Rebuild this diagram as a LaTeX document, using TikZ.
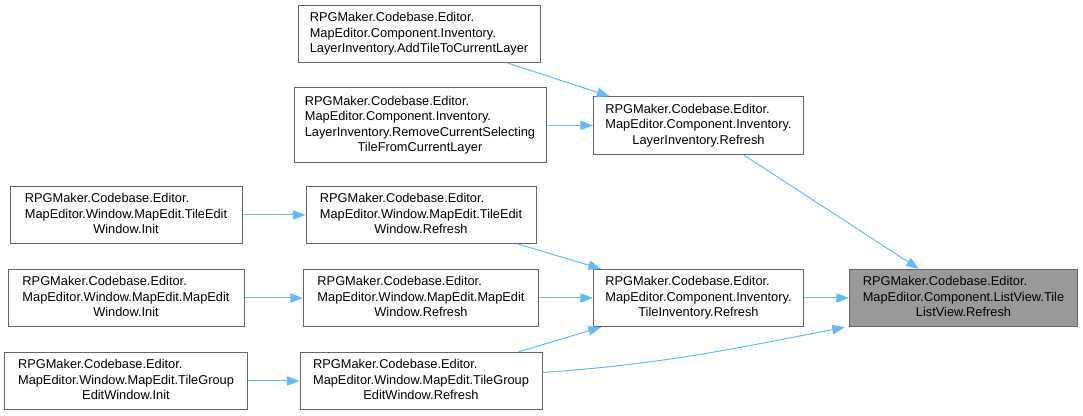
\documentclass[tikz,border=0pt]{standalone}
\usepackage{fontspec}
\setmainfont{Liberation Sans}
\usetikzlibrary{arrows.meta}
\definecolor{edgeblue}{HTML}{63B8FF}
\definecolor{boxgray}{HTML}{666666}
\definecolor{fillgray}{HTML}{999999}
% left lines, then a centred last line
\newcommand{\fnlabel}[2]{\begin{tabular}{@{}l@{}}#1\\\multicolumn{1}{@{}c@{}}{#2}\end{tabular}}

\begin{document}
\begin{tikzpicture}[x=0.75pt,y=-0.75pt,
        fn/.style={draw=boxgray,line width=0.75pt,fill=white,inner sep=0pt,minimum height=43pt,
                   font=\fontsize{9.6}{11.6}\selectfont},
        call/.style={color=edgeblue,line width=0.75pt,-{Triangle[length=9.5pt,width=7pt]}}]
        \useasboundingbox (0,0) rectangle (1083,416);
        \node[fn,minimum width=181.5pt] (addtile) at (419,34)
            {\fnlabel{RPGMaker.Codebase.Editor.\\MapEditor.Component.Inventory.}{LayerInventory.AddTileToCurrentLayer}};
        \node[fn,minimum width=189pt,minimum height=56.25pt] (remove) at (420,125.5)
            {\fnlabel{RPGMaker.Codebase.Editor.\\MapEditor.Component.Inventory.\\LayerInventory.RemoveCurrentSelecting}{TileFromCurrentLayer}};
        \node[fn,minimum width=157.5pt] (layerref) at (698.5,125.5)
            {\fnlabel{RPGMaker.Codebase.Editor.\\MapEditor.Component.Inventory.}{LayerInventory.Refresh}};
        \node[fn,minimum width=174pt] (tileeditinit) at (126,215)
            {\fnlabel{RPGMaker.Codebase.Editor.\\MapEditor.Window.MapEdit.TileEdit}{Window.Init}};
        \node[fn,minimum width=172.5pt] (tileeditref) at (421,215)
            {\fnlabel{RPGMaker.Codebase.Editor.\\MapEditor.Window.MapEdit.TileEdit}{Window.Refresh}};
        \node[fn,minimum width=177pt] (mapeditinit) at (126,298)
            {\fnlabel{RPGMaker.Codebase.Editor.\\MapEditor.Window.MapEdit.MapEdit}{Window.Init}};
        \node[fn,minimum width=176.25pt] (mapeditref) at (421,298)
            {\fnlabel{RPGMaker.Codebase.Editor.\\MapEditor.Window.MapEdit.MapEdit}{Window.Refresh}};
        \node[fn,minimum width=182.25pt] (tgroupinit) at (126,381)
            {\fnlabel{RPGMaker.Codebase.Editor.\\MapEditor.Window.MapEdit.TileGroup}{EditWindow.Init}};
        \node[fn,minimum width=181.5pt] (tgroupref) at (421,381)
            {\fnlabel{RPGMaker.Codebase.Editor.\\MapEditor.Window.MapEdit.TileGroup}{EditWindow.Refresh}};
        \node[fn,minimum width=157.5pt] (tileinvref) at (698.5,298)
            {\fnlabel{RPGMaker.Codebase.Editor.\\MapEditor.Component.Inventory.}{TileInventory.Refresh}};
        \node[fn,fill=fillgray,minimum width=171pt] (listview) at (963.5,298)
            {\fnlabel{RPGMaker.Codebase.Editor.\\MapEditor.Component.ListView.Tile}{ListView.Refresh}};
        \draw[call] (addtile) -- (layerref);
        \draw[call] (remove) -- (layerref);
        \draw[call] (layerref) -- (listview);
        \draw[call] (tileeditinit) -- (tileeditref);
        \draw[call] (mapeditinit) -- (mapeditref);
        \draw[call] (tgroupinit) -- (tgroupref);
        \draw[call] (tileeditref) -- (tileinvref);
        \draw[call] (mapeditref) -- (tileinvref);
        \draw[call] (tgroupref) -- (tileinvref);
        \draw[call] (tileinvref) -- (listview);
        \draw[call] (tgroupref.4) to[out=4,in=191] ([xshift=-3pt]listview.south west);
    \end{tikzpicture}
\end{document}
